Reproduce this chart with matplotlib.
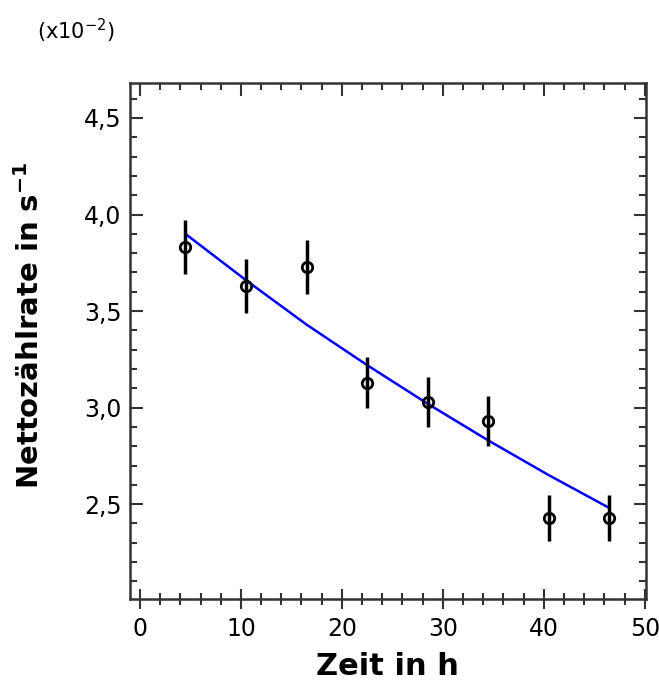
import matplotlib
matplotlib.use("Agg")
import matplotlib.pyplot as plt
from matplotlib.ticker import MultipleLocator, FuncFormatter

plt.rcParams['mathtext.default'] = 'regular'

# Messwerte (Zeit in h, Nettozaehlrate in 1e-2 / s)
zeit = [4.5, 10.5, 16.5, 22.5, 28.5, 34.5, 40.5, 46.5]
rate = [3.83, 3.63, 3.73, 3.13, 3.03, 2.93, 2.43, 2.43]
fehler = [0.14, 0.14, 0.14, 0.13, 0.13, 0.13, 0.12, 0.12]

fit_zeit = [4.5, 10.5, 16.5, 22.5, 28.5, 34.5, 40.5, 46.5]
fit_rate = [3.90, 3.66, 3.43, 3.22, 3.02, 2.83, 2.65, 2.48]

fig = plt.figure(figsize=(6.59, 6.82), dpi=100)
ax = fig.add_axes([0.197, 0.122, 0.783, 0.756])

ax.plot(fit_zeit, fit_rate, color='#0000ff', lw=1.8, zorder=2)
ax.errorbar(zeit, rate, yerr=fehler, fmt='o', ms=7.5, mfc='none', mec='black',
            mew=2, ecolor='black', elinewidth=2.5, capsize=0, zorder=3)

ax.set_xlim(-1.0, 50.1)
ax.set_ylim(2.01, 4.68)

ax.xaxis.set_major_locator(MultipleLocator(10))
ax.xaxis.set_minor_locator(MultipleLocator(2))
ax.yaxis.set_major_locator(MultipleLocator(0.5))
ax.yaxis.set_minor_locator(MultipleLocator(0.1))
ax.yaxis.set_major_formatter(FuncFormatter(lambda v, p: f'{v:.1f}'.replace('.', ',')))

for s in ax.spines.values():
    s.set_linewidth(1.8)
    s.set_color('#333333')

ax.tick_params(axis='both', which='both', colors='#333333', labelcolor='black',
               labelsize=17, width=1.5)
ax.tick_params(axis='x', which='major', direction='inout', length=14, top=False, pad=6)
ax.tick_params(axis='x', which='minor', direction='inout', length=8, top=False)
ax.tick_params(axis='y', which='major', direction='in', length=9, pad=6)
ax.tick_params(axis='y', which='minor', direction='in', length=5)

# top and right ticks pointing inward
sec_x = ax.secondary_xaxis('top')
sec_x.xaxis.set_major_locator(MultipleLocator(10))
sec_x.xaxis.set_minor_locator(MultipleLocator(2))
sec_x.tick_params(which='major', direction='in', length=9, width=1.5, colors='#333333', labeltop=False)
sec_x.tick_params(which='minor', direction='in', length=5, width=1.5, colors='#333333')
sec_x.spines['top'].set_visible(False)

sec_y = ax.secondary_yaxis('right')
sec_y.yaxis.set_major_locator(MultipleLocator(0.5))
sec_y.yaxis.set_minor_locator(MultipleLocator(0.1))
sec_y.tick_params(which='major', direction='in', length=9, width=1.5, colors='#333333', labelright=False)
sec_y.tick_params(which='minor', direction='in', length=5, width=1.5, colors='#333333')
sec_y.spines['right'].set_visible(False)

ax.set_xlabel('Zeit in h', fontsize=22, fontweight='bold', labelpad=8)
ax.set_ylabel('Nettozählrate in s$^{-1}$', fontsize=21, fontweight='bold')
ax.yaxis.set_label_coords(-0.165, 0.53)

fig.text(0.056, 0.955, '(x10$^{-2}$)', fontsize=15, ha='left', va='center')

fig.savefig('out.png', dpi=100)
